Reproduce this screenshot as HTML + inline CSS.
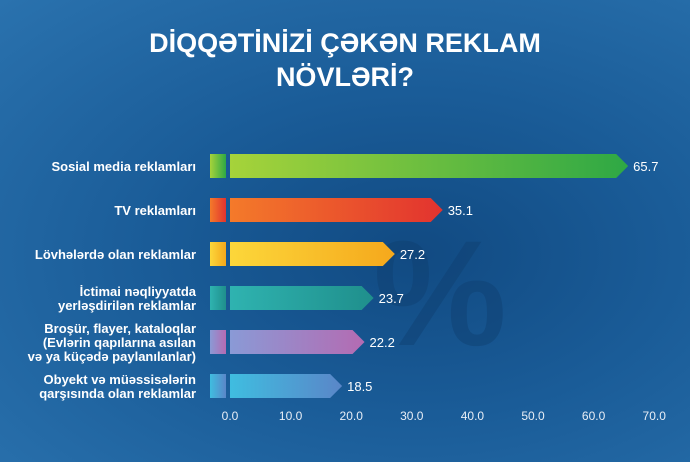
<!DOCTYPE html>
<html><head><meta charset="utf-8">
<style>
html,body{margin:0;padding:0}
body{width:690px;height:462px;overflow:hidden;font-family:"Liberation Sans",sans-serif;}
#bg{position:absolute;left:0;top:0;width:690px;height:462px;background:radial-gradient(ellipse at 60% 55%,#114a82 0%,#1a5c98 45%,#2a72ae 100%);}
</style></head>
<body>
<div id="bg"></div>
<svg id="chart" width="690" height="462" style="position:absolute;left:0;top:0">
<defs>
<linearGradient id="g0" x1="0" x2="1"><stop offset="0" stop-color="#a6d33a"/><stop offset="1" stop-color="#2ea845"/></linearGradient>
<linearGradient id="g1" x1="0" x2="1"><stop offset="0" stop-color="#f47a2a"/><stop offset="1" stop-color="#e2332f"/></linearGradient>
<linearGradient id="g2" x1="0" x2="1"><stop offset="0" stop-color="#fcd73a"/><stop offset="1" stop-color="#f5a81c"/></linearGradient>
<linearGradient id="g3" x1="0" x2="1"><stop offset="0" stop-color="#2fb3b0"/><stop offset="1" stop-color="#1f8f8c"/></linearGradient>
<linearGradient id="g4" x1="0" x2="1"><stop offset="0" stop-color="#8a9ad6"/><stop offset="1" stop-color="#b46bb2"/></linearGradient>
<linearGradient id="g5" x1="0" x2="1"><stop offset="0" stop-color="#3fbde0"/><stop offset="1" stop-color="#5a86c8"/></linearGradient>
</defs>
<text x="345" y="52" text-anchor="middle" fill="#fff" font-size="27" font-weight="bold">DİQQƏTİNİZİ ÇƏKƏN REKLAM</text>
<text x="345" y="86" text-anchor="middle" fill="#fff" font-size="27" font-weight="bold">NÖVLƏRİ?</text>
<text x="440" y="345" text-anchor="middle" fill="#0f3f70" font-size="150" font-weight="bold" opacity="0.45">%</text>
<g id="bars"></g>
</svg>
<script>
const categories=[["Sosial media reklamları"],["TV reklamları"],["Lövhələrdə olan reklamlar"],["İctimai nəqliyyatda","yerləşdirilən reklamlar"],["Broşür, flayer, kataloqlar","(Evlərin qapılarına asılan","və ya küçədə paylanılanlar)"],["Obyekt və müəssisələrin","qarşısında olan reklamlar"]];
const values=[65.7,35.1,27.2,23.7,22.2,18.5];
const ticks=[0,10,20,30,40,50,60,70];
const ns="http://www.w3.org/2000/svg";
const x=v=>230+v*6.06;
const y=i=>166+i*44;
const g=document.getElementById('bars');
function mk(t,a){const e=document.createElementNS(ns,t);for(const k in a)e.setAttribute(k,a[k]);g.appendChild(e);return e;}
values.forEach((v,i)=>{
  const cy=y(i),h=24,top=cy-h/2,end=x(v),body=Math.max(x(0),end-12);
  const s=mk('rect',{x:210,y:top,width:16,height:h,fill:`url(#g${i})`});
  
  
  const p=mk('path',{d:`M${x(0)},${top}H${body}L${end},${cy}L${body},${top+h}H${x(0)}Z`,fill:`url(#g${i})`});
  
  
  const t=mk('text',{x:end+5,y:cy+5,fill:'#fff','font-size':13});
  t.textContent=v.toFixed(1);
  
  
  const lines=categories[i];
  lines.forEach((l,j)=>{
    const lt=mk('text',{x:196,y:cy+5+(j-(lines.length-1)/2)*14,'text-anchor':'end',fill:'#fff','font-size':13,'font-weight':'bold'});
    lt.textContent=l;
    
    
  });
});
ticks.forEach(v=>{
  const t=mk('text',{x:x(v),y:420,'text-anchor':'middle',fill:'#e8eef6','font-size':12});
  t.textContent=v.toFixed(1);
  
  
});
</script>
</body></html>
